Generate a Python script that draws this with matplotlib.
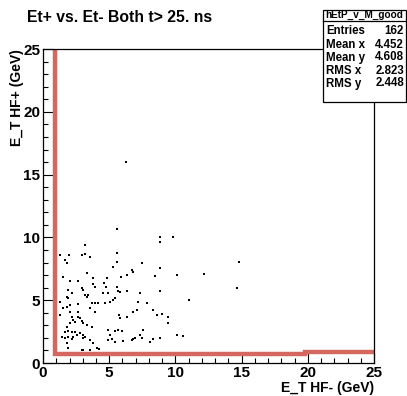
#!/usr/bin/env python3
import matplotlib
matplotlib.use("Agg")
import matplotlib.pyplot as plt
from matplotlib.ticker import MultipleLocator
from matplotlib.patches import Rectangle

# scatter of E_T HF- (x) vs E_T HF+ (y)
et_minus = [1.28, 1.96, 2.92, 3.17, 3.55, 5.56, 1.66, 1.79, 5.31, 5.56, 7.45, 8.84,
            6.70, 6.82, 1.54, 2.04, 2.67, 3.30, 3.80, 4.81, 5.87, 6.32, 8.46, 10.15,
            12.16, 1.91, 2.16, 2.92, 3.05, 3.75, 3.93, 4.63, 4.76, 5.56, 5.69, 5.82,
            6.32, 7.33, 8.84, 4.56, 4.93, 1.79, 1.91, 3.17, 3.30, 3.42, 5.44, 5.31,
            5.06, 3.68, 3.93, 4.18, 4.68, 7.20, 7.83, 11.05, 1.28, 1.54, 1.79, 2.04,
            2.67, 3.55, 3.93, 5.77, 5.82, 6.32, 6.82, 7.07, 8.33, 8.59, 8.96, 9.47,
            9.47, 1.28, 2.04, 2.67, 2.16, 2.29, 2.67, 2.79, 2.92, 2.42, 3.05, 3.30,
            3.68, 2.04, 1.79, 1.66, 1.91, 2.16, 2.42, 2.54, 2.79, 3.05, 3.17, 1.41,
            1.66, 1.91, 2.16, 2.29, 3.05, 3.55, 4.93, 5.44, 5.69, 5.94, 5.06, 7.53,
            7.33, 4.93, 5.19, 5.44, 6.07, 6.70, 6.82, 6.95, 7.45, 8.08, 8.33, 8.84,
            10.15, 10.60, 1.79, 1.91, 2.92, 3.05, 3.80, 4.05, 4.26, 3.55,
            6.27, 5.56, 8.84, 8.84, 9.84, 3.17, 14.78, 14.65]
et_plus = [8.60, 8.63, 8.63, 8.68, 8.42, 8.73, 8.20, 7.94, 7.67, 8.04, 7.94, 7.57,
           7.41, 7.27, 6.88, 6.56, 6.56, 7.20, 6.77, 6.77, 6.88, 7.01, 6.93, 7.01,
           7.09, 5.82, 5.60, 5.95, 5.82, 6.27, 6.08, 6.35, 6.03, 6.08, 5.74, 5.68,
           5.71, 5.60, 5.71, 5.55, 5.55, 5.28, 5.15, 5.42, 5.28, 5.39, 5.15, 5.02,
           4.89, 4.81, 4.81, 4.81, 4.81, 4.89, 4.81, 5.02, 4.89, 4.36, 4.49, 4.59,
           4.70, 4.36, 4.09, 3.82, 3.56, 3.69, 4.09, 4.22, 4.22, 3.82, 3.90, 3.69,
           3.21, 3.82, 4.09, 4.09, 3.69, 3.43, 3.69, 3.56, 3.37, 3.29, 3.16, 3.03,
           2.90, 3.21, 2.90, 2.50, 2.55, 2.50, 2.50, 2.23, 2.42, 2.23, 2.10, 2.05,
           1.97, 2.05, 1.89, 2.05, 1.97, 1.83, 2.63, 2.58, 2.63, 2.55, 2.23, 2.63,
           2.23, 1.83, 1.89, 1.70, 1.78, 1.83, 1.89, 1.97, 2.02, 1.70, 1.89, 1.97,
           2.23, 2.15, 1.57, 1.22, 1.04, 1.04, 1.57, 1.17, 1.12, 1.04,
           16.0, 10.7, 10.0, 9.63, 10.0, 9.42, 8.04, 5.95]

# cut lines (red)
cut_x = [0.9, 0.9, 19.8, 19.8, 25.0]
cut_y = [25.0, 0.75, 0.75, 0.9, 0.9]

TITLE = "Et+ vs. Et- Both t> 25. ns"
HIST_NAME = "hEtP_v_M_good"
stat_names = ["Entries", "Mean x", "Mean y", "RMS x", "RMS y"]
stat_values = ["162", "4.452", "4.608", "2.823", "2.448"]

plt.rcParams['font.family'] = ['Liberation Sans', 'DejaVu Sans']

fig = plt.figure(figsize=(4.07, 3.96), dpi=100)
ax = fig.add_axes([0.1057, 0.0833, 0.8133, 0.7929])

ax.plot(cut_x, cut_y, color='#d4675f', lw=3.2, solid_joinstyle='miter', zorder=2)
ax.scatter(et_minus, et_plus, marker='s', s=3.8, color='black', lw=0, zorder=3)

ax.set_xlim(0, 25)
ax.set_ylim(0, 25)
ax.xaxis.set_major_locator(MultipleLocator(5))
ax.xaxis.set_minor_locator(MultipleLocator(1))
ax.yaxis.set_major_locator(MultipleLocator(5))
ax.yaxis.set_minor_locator(MultipleLocator(1))
ax.tick_params(which='both', direction='in', top=False, right=False, width=0.8)
ax.tick_params(which='major', length=7.5, labelsize=11, pad=2)
ax.tick_params(which='minor', length=3.8)
for lab in ax.get_xticklabels() + ax.get_yticklabels():
    lab.set_fontweight('bold')
for sp in ax.spines.values():
    sp.set_linewidth(0.9)

fig.text(27 / 407, 1 - 18 / 396, TITLE, fontsize=11.3, fontweight='bold',
         ha='left', va='center')
fig.text(374 / 407, 1 - 388 / 396, "E_T HF- (GeV)", fontsize=10, fontweight='bold',
         ha='right', va='center')
fig.text(17 / 407, 1 - 49 / 396, "E_T HF+ (GeV)", fontsize=10, fontweight='bold',
         ha='center', va='top', rotation=90)

# stats box
W, H = 407, 396
bx0, bx1, by0, by1, hy = 323, 406, 10, 102, 21
fig.patches.append(Rectangle((bx0 / W, 1 - by1 / H), (bx1 - bx0) / W, (by1 - by0) / H,
                             transform=fig.transFigure, facecolor='white',
                             edgecolor='black', lw=0.9, zorder=5))
fig.lines.append(plt.Line2D([bx0 / W, bx1 / W], [1 - hy / H, 1 - hy / H],
                            transform=fig.transFigure, color='black', lw=0.9, zorder=6))
fig.text((bx0 + bx1) / 2 / W, 1 - 15 / H, HIST_NAME, fontsize=7.2, fontweight='bold',
         ha='center', va='center', zorder=7)
for i, (name, val) in enumerate(zip(stat_names, stat_values)):
    yy = 1 - (31.5 + 13 * i) / H
    fig.text(326 / W, yy, name, fontsize=8.3, fontweight='bold', ha='left', va='center', zorder=7)
    fig.text(404 / W, yy, val, fontsize=8.3, fontweight='bold', ha='right', va='center', zorder=7)

fig.savefig("out.png", dpi=100)
